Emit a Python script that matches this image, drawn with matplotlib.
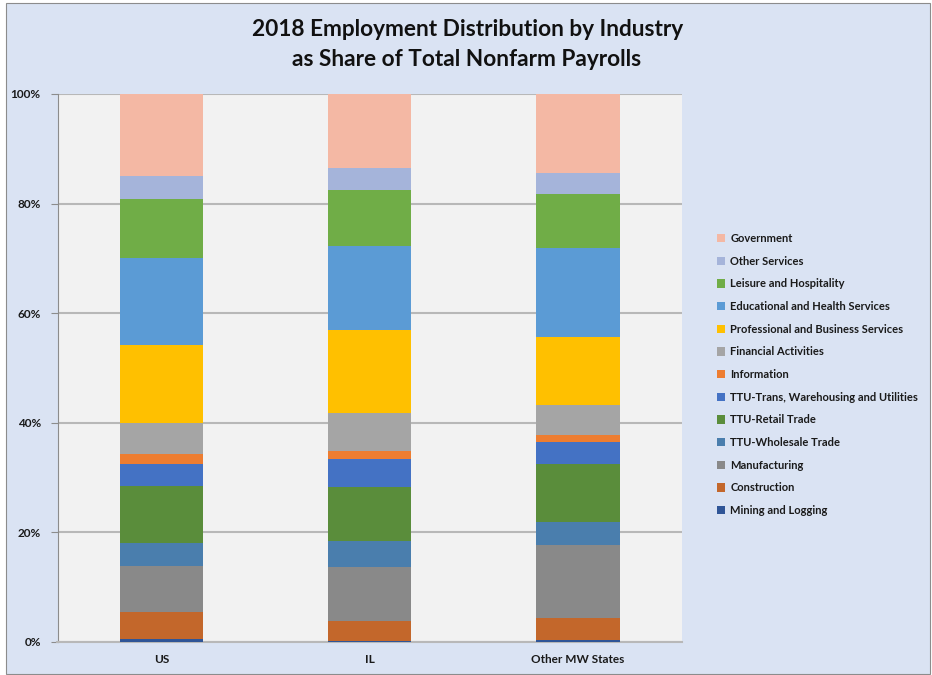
import matplotlib.pyplot as plt
from matplotlib.patches import Rectangle, Patch

# Data: share of total nonfarm payrolls (%)
regions = ['US', 'IL', 'Other MW States']
industries = ['Mining and Logging', 'Construction', 'Manufacturing',
              'TTU-Wholesale Trade', 'TTU-Retail Trade',
              'TTU-Trans, Warehousing and Utilities', 'Information',
              'Financial Activities', 'Professional and Business Services',
              'Educational and Health Services', 'Leisure and Hospitality',
              'Other Services', 'Government']
mining = [0.5, 0.1, 0.3]
construction = [4.9, 3.7, 4.0]
manufacturing = [8.4, 9.8, 13.4]
wholesale = [4.2, 4.7, 4.1]
retail = [10.5, 9.9, 10.6]
trans = [3.9, 5.2, 4.1]
information = [1.8, 1.5, 1.2]
financial = [5.8, 6.8, 5.5]
professional = [14.1, 15.3, 12.4]
education = [15.9, 15.3, 16.3]
leisure = [10.9, 10.3, 9.8]
other = [4.1, 4.0, 3.8]
government = [15.0, 13.5, 14.5]

series = [mining, construction, manufacturing, wholesale, retail, trans,
          information, financial, professional, education, leisure, other,
          government]
colors = ['#2F5597', '#C3672B', '#898989', '#4A7EAD', '#5A8D3B', '#4472C4',
          '#ED7D31', '#A5A5A5', '#FFC000', '#5B9BD5', '#70AD47', '#A5B4DA',
          '#F4B8A4']

plt.rcParams['font.family'] = ['Lato', 'DejaVu Sans']

fig = plt.figure(figsize=(9.32, 6.75), dpi=100, facecolor='white')
# chart area background
fig.patches.append(Rectangle((6 / 932, 1 / 675), 924 / 932, 671 / 675,
                             transform=fig.transFigure, facecolor='#DAE3F3',
                             edgecolor='#8C8C8C', linewidth=0.8, zorder=-5))

ax = fig.add_axes([57.5 / 932, 1 - 641.6 / 675, 624.5 / 932, 547.6 / 675])
ax.set_facecolor('#F2F2F2')

x = range(len(regions))
bottom = [0.0] * len(regions)
for vals, col, name in zip(series, colors, industries):
    totals = [sum(s[i] for s in series) for i in x]
    pct = [v / t * 100 for v, t in zip(vals, totals)]
    ax.bar(x, pct, width=0.4, bottom=bottom, color=col, label=name, zorder=3)
    bottom = [b + p for b, p in zip(bottom, pct)]

ax.set_xlim(-0.5, 2.5)
ax.set_ylim(0, 100)
ax.set_yticks(range(0, 101, 20))
ax.set_yticklabels([f'{v}%' for v in range(0, 101, 20)])
ax.set_xticks(list(x))
ax.set_xticklabels(regions)
ax.yaxis.grid(True, color='#B8B8B8', linewidth=1.5, zorder=1)
ax.tick_params(axis='y', length=5, color='#8C8C8C', labelsize=8.5, pad=7)
ax.tick_params(axis='x', length=0, labelsize=8.5, pad=9)
for lab in ax.get_xticklabels() + ax.get_yticklabels():
    lab.set_fontweight('bold')
    lab.set_color('#1A1A1A')
for s in ['top', 'right']:
    ax.spines[s].set_visible(False)
ax.spines['left'].set_color('#8C8C8C')
ax.spines['bottom'].set_color('#B8B8B8')
ax.spines['bottom'].set_linewidth(1.5)

fig.text(468 / 932, 1 - 30 / 675, '2018 Employment Distribution by Industry',
         ha='center', va='center', fontsize=16.3, fontweight='bold',
         color='#111111')
fig.text(467 / 932, 1 - 59 / 675, 'as Share of Total Nonfarm Payrolls',
         ha='center', va='center', fontsize=16.3, fontweight='bold',
         color='#111111')

handles = [Patch(facecolor=c, label=n) for c, n in zip(colors, industries)][::-1]
leg = fig.legend(handles=handles, loc='upper left',
                 bbox_to_anchor=(707 / 932, 1 - 223 / 675), frameon=False,
                 fontsize=8, handlelength=0.75, handleheight=0.75,
                 handletextpad=0.45, labelspacing=1.05)
for t in leg.get_texts():
    t.set_fontweight('bold')
    t.set_color('#1A1A1A')

fig.savefig('out.png', dpi=100)
